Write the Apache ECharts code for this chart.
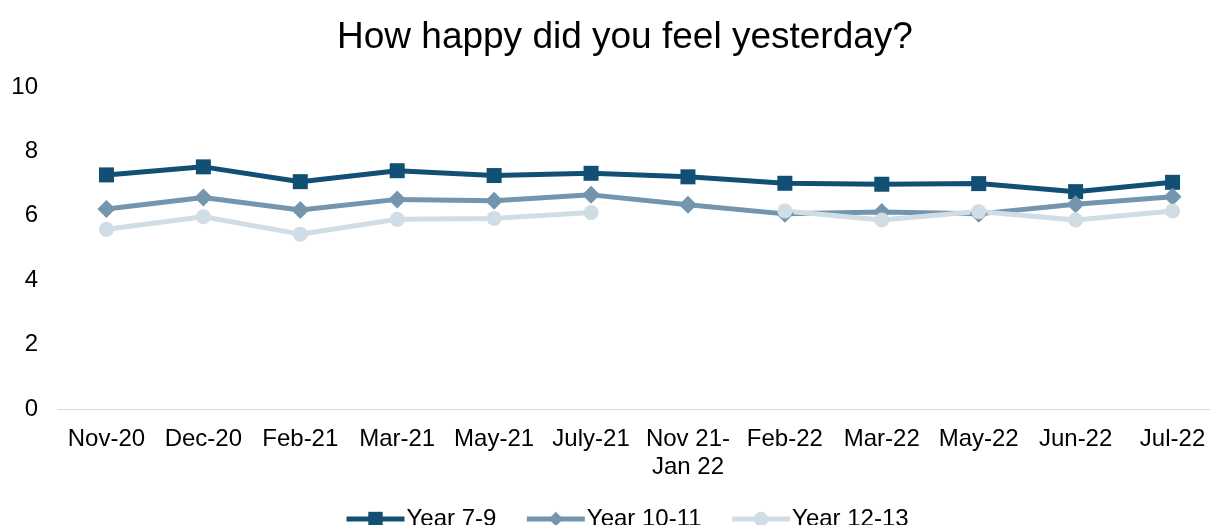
<!DOCTYPE html>
<html>
<head>
<meta charset="utf-8">
<script src="https://cdn.jsdelivr.net/npm/echarts@6/dist/echarts.min.js"></script>
<style>
  html, body { margin: 0; padding: 0; background: #fff; overflow: hidden; }
  #main { width: 1221px; height: 525px; }
</style>
</head>
<body>
<div id="main"></div>
<script>
var categories = ['Nov-20', 'Dec-20', 'Feb-21', 'Mar-21', 'May-21', 'July-21', 'Nov 21-\nJan 22',
  'Feb-22', 'Mar-22', 'May-22', 'Jun-22', 'Jul-22'];
var year79 = [7.27, 7.52, 7.06, 7.40, 7.25, 7.32, 7.21, 7.01, 6.98, 7.00, 6.75, 7.04];
var year1011 = [6.21, 6.57, 6.18, 6.51, 6.47, 6.65, 6.34, 6.06, 6.12, 6.06, 6.36, 6.59];
var year1213 = [5.58, 5.97, 5.43, 5.89, 5.92, 6.10, null, 6.15, 5.87, 6.13, 5.87, 6.15];
var yTicks = [0, 2, 4, 6, 8, 10];

var chart = echarts.init(document.getElementById('main'));

function line(name, data, color, symbol, size) {
  return {
    name: name,
    type: 'line',
    data: data,
    symbol: symbol,
    symbolSize: size,
    connectNulls: false,
    lineStyle: { color: color, width: 5 },
    itemStyle: { color: color },
    emphasis: { disabled: true }
  };
}

var option = {
  animation: false,
  backgroundColor: '#ffffff',
  textStyle: { fontFamily: 'Liberation Sans, Arial, sans-serif' },
  title: {
    text: 'How happy did you feel yesterday?',
    left: 332,
    top: 14,
    textStyle: { fontSize: 37, fontWeight: 'normal', color: '#000' }
  },
  legend: {
    top: 502,
    left: 339,
    itemWidth: 58,
    itemHeight: 18,
    itemGap: 28,
    lineStyle: { width: 5 },
    textStyle: { fontSize: 24, color: '#000', padding: [0, 0, 0, -3] },
    data: ['Year 7-9', 'Year 10-11', 'Year 12-13']
  },
  grid: { left: 58, right: 0, top: 87, bottom: 116 },
  xAxis: {
    type: 'category',
    data: categories,
    axisLine: { lineStyle: { color: '#d9d9d9', width: 1 } },
    axisTick: { show: false },
    axisLabel: { fontSize: 24, color: '#000', margin: 16, lineHeight: 28, interval: 0 }
  },
  yAxis: {
    type: 'value',
    min: yTicks[0],
    max: yTicks[yTicks.length - 1],
    interval: 2,
    axisLine: { show: false },
    axisTick: { show: false },
    splitLine: { show: false },
    axisLabel: { fontSize: 24, color: '#000', margin: 20 }
  },
  series: [
    line('Year 7-9', year79, '#124f74', 'rect', 15),
    line('Year 10-11', year1011, '#7395ae', 'diamond', 18),
    line('Year 12-13', year1213, '#d0dde5', 'circle', 15)
  ]
};

chart.setOption(option);
</script>
</body>
</html>
